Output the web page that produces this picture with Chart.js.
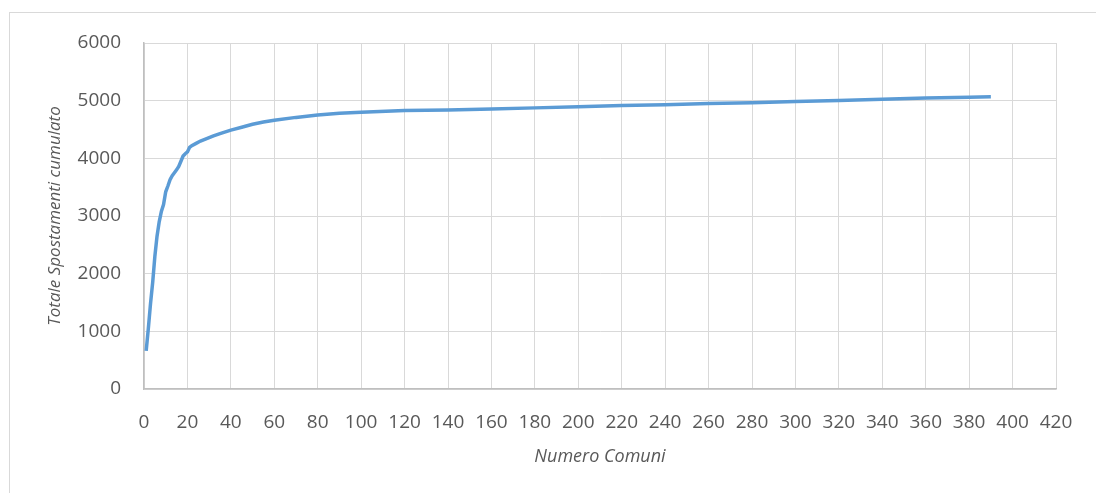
<!DOCTYPE html>
<html>
<head>
<meta charset="utf-8">
<script src="https://cdn.jsdelivr.net/npm/chart.js@4/dist/chart.umd.min.js"></script>
<style>
    body { margin: 0; background: #fff; }
    #cornice {
        position: absolute; left: 9px; top: 12px;
        width: 1200px; height: 600px;
        border: 1px solid #d9d9d9;
    }
    #wrap { position: absolute; left: 0; top: 0; width: 1096px; height: 493px; }
</style>
</head>
<body>
<div id="cornice"></div>
<div id="wrap"><canvas id="grafico"></canvas></div>
<script>
// Dati: numero comuni (x) e spostamenti cumulati (y)
const numeroComuni = [1, 2, 3, 4, 5, 6, 7, 8, 9, 10, 11, 12, 13, 14, 15, 16, 17, 18, 19, 20,
    21, 22, 24, 26, 28, 30, 32, 35, 40, 45, 50, 55, 60, 70, 80, 90, 100, 120, 140, 160,
    180, 200, 220, 240, 260, 280, 300, 320, 340, 360, 380, 390];
const spostamentiCumulati = [660, 1050, 1480, 1850, 2300, 2650, 2900, 3080, 3200, 3420, 3520, 3630, 3700, 3750, 3800, 3860, 3950, 4040, 4080, 4110,
    4190, 4220, 4260, 4300, 4330, 4360, 4390, 4430, 4490, 4540, 4590, 4630, 4660, 4710, 4750, 4780, 4800, 4830, 4840, 4855,
    4875, 4895, 4915, 4930, 4950, 4965, 4985, 5005, 5025, 5045, 5060, 5070];
const tickX = { min: 0, max: 420, step: 20 };
const tickY = { min: 0, max: 6000, step: 1000 };

const punti = numeroComuni.map((x, i) => ({ x: x, y: spostamentiCumulati[i] }));

const fontTick = { family: 'Open Sans', size: 19 };
const grigio = '#595959';

new Chart(document.getElementById('grafico'), {
    type: 'line',
    data: {
        datasets: [{
            data: punti,
            borderColor: '#5b9bd5',
            borderWidth: 3.5,
            pointRadius: 0,
            tension: 0,
            fill: false
        }]
    },
    options: {
        responsive: true,
        maintainAspectRatio: false,
        animation: false,
        layout: { padding: { top: 43, right: 40, left: 0, bottom: 0 } },
        plugins: { legend: { display: false }, tooltip: { enabled: false } },
        scales: {
            x: {
                type: 'linear',
                min: tickX.min, max: tickX.max,
                ticks: { stepSize: tickX.step, color: grigio, font: fontTick, padding: 22, maxRotation: 0, autoSkip: false,
                    callback: (v) => String(v) },
                grid: { color: '#d9d9d9', drawTicks: false },
                border: { color: '#bfbfbf', width: 1.5 },
                title: { display: true, text: 'Numero Comuni', color: grigio,
                    font: { family: 'Open Sans', size: 18, style: 'italic' }, padding: { top: 0, bottom: 25 } },
                afterFit: (s) => { s.height = 104; }
            },
            y: {
                min: tickY.min, max: tickY.max,
                ticks: { stepSize: tickY.step, color: grigio, font: fontTick, padding: 23,
                    callback: (v) => String(v) },
                grid: { color: '#d9d9d9', drawTicks: false },
                border: { color: '#bfbfbf', width: 1.5 },
                title: { display: true, text: 'Totale Spostamenti cumulato', color: grigio,
                    font: { family: 'Open Sans', size: 17, style: 'italic' }, padding: { top: 45, bottom: 0 } },
                afterFit: (s) => { s.width = 144; }
            }
        }
    }
});
</script>
</body>
</html>
